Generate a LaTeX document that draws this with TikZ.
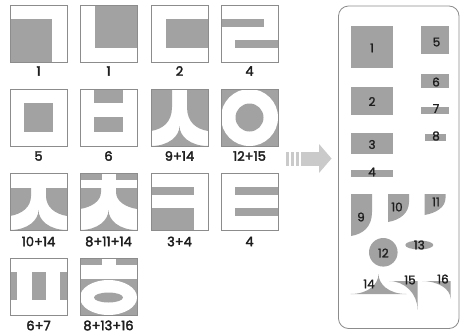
\documentclass[tikz,border=0pt]{standalone}
\usepackage{fontspec}
\setmainfont[FakeBold=1.4]{Poppins}
\newfontfamily\gridlblfont[FakeBold=2.6]{Poppins}
\definecolor{piecegray}{RGB}{162,162,162}
\definecolor{framegray}{RGB}{140,140,140}
\definecolor{arrowgray}{RGB}{202,202,202}
\definecolor{textdark}{RGB}{30,30,30}
\begin{document}
\begin{tikzpicture}[x=1pt,y=-1pt,
  boxframe/.style={draw=framegray,line width=0.8pt},
  piece/.style={fill=piecegray,draw=none},
  blank/.style={fill=white,draw=none},
  lbl/.style={font=\gridlblfont\fontsize{13}{13}\selectfont,text=textdark,inner sep=0pt},
  plbl/.style={font=\fontsize{12}{12}\selectfont,text=textdark,inner sep=0pt}]
\useasboundingbox (0,0) rectangle (460,335);
\fill[white] (0,0) rectangle (460,335);
% ---------- row 1 ----------
\begin{scope}[shift={(10,5)}]
  \fill[piece] (0,14) rectangle (42,57);
  \draw[boxframe] (0,0) rectangle (57,57);
\end{scope}
\begin{scope}[shift={(80,5)}]
  \fill[piece] (15,0) rectangle (57,43);
  \draw[boxframe] (0,0) rectangle (57,57);
\end{scope}
\begin{scope}[shift={(151,5)}]
  \fill[piece] (15,14) rectangle (57,43);
  \draw[boxframe] (0,0) rectangle (57,57);
\end{scope}
\begin{scope}[shift={(221,5)}]
  \fill[piece] (0,14) rectangle (43,22);
  \fill[piece] (14,35) rectangle (57,43);
  \draw[boxframe] (0,0) rectangle (57,57);
\end{scope}
% ---------- row 2 ----------
\begin{scope}[shift={(10,89)}]
  \fill[piece] (14,14) rectangle (43,43);
  \draw[boxframe] (0,0) rectangle (57,57);
\end{scope}
\begin{scope}[shift={(80,89)}]
  \fill[piece] (14,0) rectangle (43,14);
  \fill[piece] (14,28) rectangle (43,43);
  \draw[boxframe] (0,0) rectangle (57,57);
\end{scope}
\begin{scope}[shift={(151,89)}]
  \fill[piece] (0,0) -- (21,0) -- (21,18) .. controls (21,33) and (12,40) .. (0,42) -- cycle;
  \fill[piece] (57,0) -- (36,0) -- (36,18) .. controls (36,33) and (45,40) .. (57,42) -- cycle;
  \fill[piece] (0,57) .. controls (18,57) and (28.5,47) .. (28.5,37) .. controls (28.5,47) and (39,57) .. (57,57) -- cycle;
  \draw[boxframe] (0,0) rectangle (57,57);
\end{scope}
\begin{scope}[shift={(221,89)}]
  \fill[piece] (0,0) rectangle (57,57);
  \fill[blank] (28.5,28.5) circle[radius=28.5];
  \fill[piece] (28.5,28.5) circle[radius=14];
  \draw[boxframe] (0,0) rectangle (57,57);
\end{scope}
% ---------- row 3 ----------
\begin{scope}[shift={(10,173)}]
  \fill[piece] (0,15) -- (21,15) -- (21,23) .. controls (21,34) and (12,41) .. (0,43) -- cycle;
  \fill[piece] (57,15) -- (36,15) -- (36,23) .. controls (36,34) and (45,41) .. (57,43) -- cycle;
  \fill[piece] (0,57) .. controls (18,57) and (28.5,47) .. (28.5,37) .. controls (28.5,47) and (39,57) .. (57,57) -- cycle;
  \draw[boxframe] (0,0) rectangle (57,57);
\end{scope}
\begin{scope}[shift={(80,173)}]
  \fill[piece] (0,0) rectangle (22,7);
  \fill[piece] (36,0) rectangle (57,7);
  \fill[piece] (0,15) -- (21,15) -- (21,19) .. controls (21,28) and (12,34) .. (0,36) -- cycle;
  \fill[piece] (57,15) -- (36,15) -- (36,19) .. controls (36,28) and (45,34) .. (57,36) -- cycle;
  \fill[piece] (0,57) .. controls (18,57) and (28.5,47) .. (28.5,37) .. controls (28.5,47) and (39,57) .. (57,57) -- cycle;
  \draw[boxframe] (0,0) rectangle (57,57);
\end{scope}
\begin{scope}[shift={(151,173)}]
  \fill[piece] (0,14) rectangle (43,22);
  \fill[piece] (0,35) rectangle (43,57);
  \draw[boxframe] (0,0) rectangle (57,57);
\end{scope}
\begin{scope}[shift={(221,173)}]
  \fill[piece] (14,14) rectangle (57,22);
  \fill[piece] (14,35) rectangle (57,43);
  \draw[boxframe] (0,0) rectangle (57,57);
\end{scope}
% ---------- row 4 ----------
\begin{scope}[shift={(10,258)}]
  \fill[piece] (0,14) rectangle (7,42);
  \fill[piece] (21.5,14) rectangle (35.5,42);
  \fill[piece] (50,14) rectangle (57,42);
  \draw[boxframe] (0,0) rectangle (57,57);
\end{scope}
\begin{scope}[shift={(80,258)}]
  \fill[piece] (0,0) rectangle (22,7);
  \fill[piece] (36,0) rectangle (57,7);
  \fill[piece] (0,21) rectangle (57,57);
  \fill[blank] (28.5,39.5) ellipse[x radius=28.5,y radius=17.5];
  \fill[piece] (28.5,39.5) ellipse[x radius=14.5,y radius=5];
  \draw[boxframe] (0,0) rectangle (57,57);
\end{scope}
% ---------- labels ----------
\node[lbl] (g1) at (38.5,71) {1};
\node[lbl] (g2) at (108.5,71) {1};
\node[lbl] (g3) at (179.5,71) {2};
\node[lbl] (g4) at (249.5,71) {4};
\node[lbl] (g5) at (38.5,156) {5};
\node[lbl] (g6) at (108.5,156) {6};
\node[lbl] (g7) at (179.5,156) {9+14};
\node[lbl] (g8) at (249.5,156) {12+15};
\node[lbl] (g9) at (38.5,241.5) {10+14};
\node[lbl] (g10) at (108.5,241.5) {8+11+14};
\node[lbl] (g11) at (179.5,241.5) {3+4};
\node[lbl] (g12) at (249.5,241.5) {4};
\node[lbl] (g13) at (38.5,325.5) {6+7};
\node[lbl] (g14) at (108.5,325.5) {8+13+16};
% ---------- arrow ----------
\fill[arrowgray] (286,152) rectangle (289,166);
\fill[arrowgray] (291,152) rectangle (294,166);
\fill[arrowgray] (296,152) rectangle (299,166);
\fill[arrowgray] (301,152) rectangle (319,166);
\fill[arrowgray] (319,144) -- (331.5,158.5) -- (319,173) -- cycle;
% ---------- panel ----------
\draw[draw=framegray,line width=0.8pt,rounded corners=10pt] (338.5,6) rectangle (459,328.5);
\fill[piece] (351,26) rectangle (393,68);
\fill[piece] (421,26) rectangle (449,54);
\fill[piece] (351,87) rectangle (393,115);
\fill[piece] (421,74) rectangle (449,88);
\fill[piece] (421,107) rectangle (449,114);
\fill[piece] (425,134) rectangle (446,141);
\fill[piece] (351,133) rectangle (393,154);
\fill[piece] (351,170) rectangle (393,177);
\begin{scope}[shift={(351,194)}]
  \fill[piece] (0,0) -- (21,0) -- (21,18) .. controls (21,33) and (12,40) .. (0,42) -- cycle;
\end{scope}
\begin{scope}[shift={(388,194)}]
  \fill[piece] (0,0) -- (21,0) -- (21,8) .. controls (21,19) and (12,26) .. (0,28) -- cycle;
\end{scope}
\begin{scope}[shift={(424.5,194)}]
  \fill[piece] (0,0) -- (21,0) -- (21,4) .. controls (21,13) and (12,19) .. (0,21) -- cycle;
\end{scope}
\fill[piece] (383.3,252.3) circle[radius=14.3];
\fill[piece] (419.3,245) ellipse[x radius=14,y radius=4.5];
\begin{scope}[shift={(350.5,294)}]
  \fill[piece] (0,0) .. controls (18,0) and (28,-10) .. (28,-20) .. controls (28,-10) and (38,0) .. (56,0) -- cycle;
\end{scope}
\begin{scope}[shift={(389,281)}]
  \fill[piece] (0,0) -- (28.5,0) -- (28.5,28.5) .. controls (28.5,12.76) and (15.74,0) .. (0,0) -- cycle;
\end{scope}
\begin{scope}[shift={(422,281)}]
  \fill[piece] (0,0) -- (28.5,0) -- (28.5,17.5) .. controls (28.5,7.83) and (15.74,0) .. (0,0) -- cycle;
\end{scope}
% panel labels
\node[plbl] (p1) at (372,48) {1};
\node[plbl] (p5) at (436.5,42) {5};
\node[plbl] (p2) at (372,101.5) {2};
\node[plbl] (p6) at (436,82) {6};
\node[plbl] (p7) at (436,108.5) {7};
\node[plbl] (p8) at (436,136) {8};
\node[plbl] (p3) at (372,144.5) {3};
\node[plbl] (p4) at (372,172) {4};
\node[plbl] (p9) at (361,217) {9};
\node[plbl] (p10) at (397,207) {10};
\node[plbl] (p11) at (436,202) {11};
\node[plbl] (p12) at (383.3,253) {12};
\node[plbl] (p13) at (419.3,245) {13};
\node[plbl] (p14) at (369,284) {14};
\node[plbl] (p15) at (410,280) {15};
\node[plbl] (p16) at (443,279) {16};
\end{tikzpicture}
\end{document}
